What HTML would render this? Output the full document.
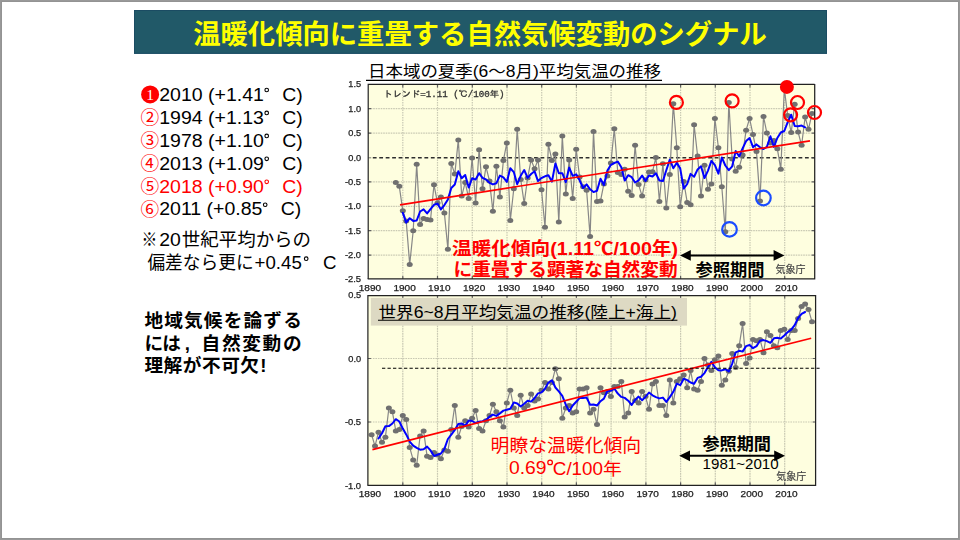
<!DOCTYPE html>
<html lang="ja"><head><meta charset="utf-8"><title>slide</title>
<style>
html,body{margin:0;padding:0;background:#fff}
body{width:960px;height:540px;overflow:hidden;font-family:"Liberation Sans",sans-serif}
svg{display:block;font-family:"Liberation Sans","Noto Sans CJK JP",sans-serif}
</style></head><body>
<svg width="960" height="540" viewBox="0 0 960 540">
<defs><filter id="soft" x="-2%" y="-5%" width="104%" height="110%"><feGaussianBlur stdDeviation="0.4"/></filter></defs>
<rect x="0" y="0" width="960" height="540" fill="#999"/>
<rect x="1" y="1" width="958" height="538" fill="#939393"/>
<rect x="2" y="2" width="956" height="536" fill="#fff"/>
<rect x="134" y="10" width="693" height="43.8" fill="#215968"/>
<rect x="134.5" y="10.5" width="692" height="42.8" fill="none" stroke="#1b4c63" stroke-width="1"/>
<text x="193.2" y="43.5" font-size="27.3" font-weight="bold" fill="#ffff00" textLength="573.6" lengthAdjust="spacingAndGlyphs">温暖化傾向に重畳する自然気候変動のシグナル</text>
<circle cx="150.1" cy="94.40" r="9.0" fill="#ff0000"/>
<text x="150.1" y="100.1" font-size="15.5" font-family="'Liberation Serif',serif" fill="#fff" text-anchor="middle">1</text>
<text x="159.2" y="100.70" font-size="18.67" fill="#000" textLength="104.7" lengthAdjust="spacingAndGlyphs">2010 (+1.41</text>
<circle cx="266.70" cy="90.00" r="1.8" fill="none" stroke="#000" stroke-width="1.1"/>
<text x="282.30" y="100.70" font-size="18.67" fill="#000" textLength="20.5" lengthAdjust="spacingAndGlyphs">C)</text>
<text x="149.95" y="124.0" font-size="18.67" fill="#ff0000" text-anchor="middle">②</text>
<text x="159.2" y="123.65" font-size="18.67" fill="#000" textLength="104.7" lengthAdjust="spacingAndGlyphs">1994 (+1.13</text>
<circle cx="266.70" cy="112.95" r="1.8" fill="none" stroke="#000" stroke-width="1.1"/>
<text x="282.30" y="123.65" font-size="18.67" fill="#000" textLength="20.5" lengthAdjust="spacingAndGlyphs">C)</text>
<text x="149.95" y="146.95" font-size="18.67" fill="#ff0000" text-anchor="middle">③</text>
<text x="159.2" y="146.60" font-size="18.67" fill="#000" textLength="104.7" lengthAdjust="spacingAndGlyphs">1978 (+1.10</text>
<circle cx="266.70" cy="135.90" r="1.8" fill="none" stroke="#000" stroke-width="1.1"/>
<text x="282.30" y="146.60" font-size="18.67" fill="#000" textLength="20.5" lengthAdjust="spacingAndGlyphs">C)</text>
<text x="149.95" y="169.9" font-size="18.67" fill="#ff0000" text-anchor="middle">④</text>
<text x="159.2" y="169.55" font-size="18.67" fill="#000" textLength="104.7" lengthAdjust="spacingAndGlyphs">2013 (+1.09</text>
<circle cx="266.70" cy="158.85" r="1.8" fill="none" stroke="#000" stroke-width="1.1"/>
<text x="282.30" y="169.55" font-size="18.67" fill="#000" textLength="20.5" lengthAdjust="spacingAndGlyphs">C)</text>
<text x="149.95" y="192.85" font-size="18.67" fill="#ff0000" text-anchor="middle">⑤</text>
<text x="159.2" y="192.50" font-size="18.67" fill="#ff0000" textLength="104.7" lengthAdjust="spacingAndGlyphs">2018 (+0.90</text>
<circle cx="266.70" cy="181.80" r="1.8" fill="none" stroke="#ff0000" stroke-width="1.1"/>
<text x="282.30" y="192.50" font-size="18.67" fill="#ff0000" textLength="20.5" lengthAdjust="spacingAndGlyphs">C)</text>
<text x="149.95" y="215.8" font-size="18.67" fill="#ff0000" text-anchor="middle">⑥</text>
<text x="159.2" y="215.45" font-size="18.67" fill="#000" textLength="32.55" lengthAdjust="spacingAndGlyphs">201</text>
<text x="190.25" y="215.45" font-size="18.67" fill="#000" textLength="72.15" lengthAdjust="spacingAndGlyphs">1 (+0.85</text>
<circle cx="265.20" cy="204.75" r="1.8" fill="none" stroke="#000" stroke-width="1.1"/>
<text x="280.80" y="215.45" font-size="18.67" fill="#000" textLength="20.5" lengthAdjust="spacingAndGlyphs">C)</text>
<text x="141.6" y="245.7" font-size="18.67" fill="#000" textLength="15.8" lengthAdjust="spacingAndGlyphs">※</text>
<text x="159.2" y="245.7" font-size="18.67" textLength="21.6" lengthAdjust="spacingAndGlyphs">20</text>
<text x="181.8" y="245.7" font-size="18.67" fill="#000" textLength="129.2" lengthAdjust="spacingAndGlyphs">世紀平均からの</text>
<text x="147.4" y="269.4" font-size="18.67" fill="#000" textLength="106.2" lengthAdjust="spacingAndGlyphs">偏差なら更に</text>
<text x="254.6" y="269.4" font-size="18.67">+0.45</text>
<circle cx="306.2" cy="258.7" r="1.8" fill="none" stroke="#000" stroke-width="1.1"/>
<text x="322.9" y="269.4" font-size="18.67">C</text>
<text x="144.4" y="327.2" font-size="18.67" font-weight="bold" fill="#000" textLength="157.4" lengthAdjust="spacing">地域気候を論ずる</text>
<text x="144.6" y="349.9" font-size="18.67" font-weight="bold" fill="#000" textLength="36.4" lengthAdjust="spacing">には</text>
<text x="184.7" y="349.9" font-size="18.67" font-weight="bold" fill="#000">,</text>
<text x="201.6" y="349.9" font-size="18.67" font-weight="bold" fill="#000" textLength="100" lengthAdjust="spacing">自然変動の</text>
<text x="144.4" y="371.5" font-size="18.67" font-weight="bold" fill="#000" textLength="114.6" lengthAdjust="spacing">理解が不可欠</text>
<text x="260.3" y="371.5" font-size="18.67" font-weight="bold" fill="#000">!</text>
<text x="368" y="77.4" font-size="15.6" fill="#000" textLength="293" lengthAdjust="spacingAndGlyphs">日本域の夏季(6～8月)平均気温の推移</text>
<path d="M366 80.4H662" stroke="#000" stroke-width="1.1"/>
<g filter="url(#soft)">
<rect x="368.2" y="84.4" width="446.5" height="194.5" fill="#fefedf"/>
<path d="M402.8 84.4V278.9M437.5 84.4V278.9M472.3 84.4V278.9M507.0 84.4V278.9M541.7 84.4V278.9M576.4 84.4V278.9M611.1 84.4V278.9M645.9 84.4V278.9M680.6 84.4V278.9M715.3 84.4V278.9M750.0 84.4V278.9M784.7 84.4V278.9M368.2 108.7H814.7M368.2 133.1H814.7M368.2 181.9H814.7M368.2 206.3H814.7M368.2 230.7H814.7M368.2 255.1H814.7" stroke="#c9c9b3" stroke-width="1.2" stroke-dasharray="1.6 0.9" fill="none"/>
<path d="M402.8 278.9v-3M402.8 84.4v3M437.5 278.9v-3M437.5 84.4v3M472.3 278.9v-3M472.3 84.4v3M507.0 278.9v-3M507.0 84.4v3M541.7 278.9v-3M541.7 84.4v3M576.4 278.9v-3M576.4 84.4v3M611.1 278.9v-3M611.1 84.4v3M645.9 278.9v-3M645.9 84.4v3M680.6 278.9v-3M680.6 84.4v3M715.3 278.9v-3M715.3 84.4v3M750.0 278.9v-3M750.0 84.4v3M784.7 278.9v-3M784.7 84.4v3M368.2 108.7h3M814.7 108.7h-3M368.2 133.1h3M814.7 133.1h-3M368.2 181.9h3M814.7 181.9h-3M368.2 206.3h3M814.7 206.3h-3M368.2 230.7h3M814.7 230.7h-3M368.2 255.1h3M814.7 255.1h-3" stroke="#606060" stroke-width="1.2" fill="none"/>
<path d="M372.8 157.8H814.7" stroke="#2f2f2f" stroke-width="1.6" stroke-dasharray="3.8 2.65" fill="none"/>
<path d="M368.2 157.8h3M814.7 157.8h-3" stroke="#555" stroke-width="0.8" fill="none"/>
<text x="361.1" y="87.4" font-size="8.6" fill="#1e1e1e" stroke="#1e1e1e" stroke-width="0.25" text-anchor="end" textLength="12.8" lengthAdjust="spacingAndGlyphs">1.5</text>
<text x="361.1" y="111.8" font-size="8.6" fill="#1e1e1e" stroke="#1e1e1e" stroke-width="0.25" text-anchor="end" textLength="12.8" lengthAdjust="spacingAndGlyphs">1.0</text>
<text x="361.1" y="136.2" font-size="8.6" fill="#1e1e1e" stroke="#1e1e1e" stroke-width="0.25" text-anchor="end" textLength="12.8" lengthAdjust="spacingAndGlyphs">0.5</text>
<text x="361.1" y="160.6" font-size="8.6" fill="#1e1e1e" stroke="#1e1e1e" stroke-width="0.25" text-anchor="end" textLength="12.8" lengthAdjust="spacingAndGlyphs">0.0</text>
<text x="361.1" y="185.0" font-size="8.6" fill="#1e1e1e" stroke="#1e1e1e" stroke-width="0.25" text-anchor="end" textLength="16.2" lengthAdjust="spacingAndGlyphs">-0.5</text>
<text x="361.1" y="209.4" font-size="8.6" fill="#1e1e1e" stroke="#1e1e1e" stroke-width="0.25" text-anchor="end" textLength="16.2" lengthAdjust="spacingAndGlyphs">-1.0</text>
<text x="361.1" y="233.8" font-size="8.6" fill="#1e1e1e" stroke="#1e1e1e" stroke-width="0.25" text-anchor="end" textLength="16.2" lengthAdjust="spacingAndGlyphs">-1.5</text>
<text x="361.1" y="258.2" font-size="8.6" fill="#1e1e1e" stroke="#1e1e1e" stroke-width="0.25" text-anchor="end" textLength="16.2" lengthAdjust="spacingAndGlyphs">-2.0</text>
<text x="361.1" y="281.7" font-size="8.6" fill="#1e1e1e" stroke="#1e1e1e" stroke-width="0.25" text-anchor="end" textLength="16.2" lengthAdjust="spacingAndGlyphs">-2.5</text>
<text x="369.9" y="290.7" font-size="8.6" fill="#1e1e1e" stroke="#1e1e1e" stroke-width="0.25" text-anchor="middle" textLength="22.4" lengthAdjust="spacingAndGlyphs">1890</text>
<text x="404.6" y="290.7" font-size="8.6" fill="#1e1e1e" stroke="#1e1e1e" stroke-width="0.25" text-anchor="middle" textLength="22.4" lengthAdjust="spacingAndGlyphs">1900</text>
<text x="439.3" y="290.7" font-size="8.6" fill="#1e1e1e" stroke="#1e1e1e" stroke-width="0.25" text-anchor="middle" textLength="22.4" lengthAdjust="spacingAndGlyphs">1910</text>
<text x="474.1" y="290.7" font-size="8.6" fill="#1e1e1e" stroke="#1e1e1e" stroke-width="0.25" text-anchor="middle" textLength="22.4" lengthAdjust="spacingAndGlyphs">1920</text>
<text x="508.8" y="290.7" font-size="8.6" fill="#1e1e1e" stroke="#1e1e1e" stroke-width="0.25" text-anchor="middle" textLength="22.4" lengthAdjust="spacingAndGlyphs">1930</text>
<text x="543.5" y="290.7" font-size="8.6" fill="#1e1e1e" stroke="#1e1e1e" stroke-width="0.25" text-anchor="middle" textLength="22.4" lengthAdjust="spacingAndGlyphs">1940</text>
<text x="578.2" y="290.7" font-size="8.6" fill="#1e1e1e" stroke="#1e1e1e" stroke-width="0.25" text-anchor="middle" textLength="22.4" lengthAdjust="spacingAndGlyphs">1950</text>
<text x="612.9" y="290.7" font-size="8.6" fill="#1e1e1e" stroke="#1e1e1e" stroke-width="0.25" text-anchor="middle" textLength="22.4" lengthAdjust="spacingAndGlyphs">1960</text>
<text x="647.7" y="290.7" font-size="8.6" fill="#1e1e1e" stroke="#1e1e1e" stroke-width="0.25" text-anchor="middle" textLength="22.4" lengthAdjust="spacingAndGlyphs">1970</text>
<text x="682.4" y="290.7" font-size="8.6" fill="#1e1e1e" stroke="#1e1e1e" stroke-width="0.25" text-anchor="middle" textLength="22.4" lengthAdjust="spacingAndGlyphs">1980</text>
<text x="717.1" y="290.7" font-size="8.6" fill="#1e1e1e" stroke="#1e1e1e" stroke-width="0.25" text-anchor="middle" textLength="22.4" lengthAdjust="spacingAndGlyphs">1990</text>
<text x="751.8" y="290.7" font-size="8.6" fill="#1e1e1e" stroke="#1e1e1e" stroke-width="0.25" text-anchor="middle" textLength="22.4" lengthAdjust="spacingAndGlyphs">2000</text>
<text x="786.5" y="290.7" font-size="8.6" fill="#1e1e1e" stroke="#1e1e1e" stroke-width="0.25" text-anchor="middle" textLength="22.4" lengthAdjust="spacingAndGlyphs">2010</text>
<text x="383.5" y="97.3" font-size="8.6" fill="#333" stroke="#333" stroke-width="0.3" font-family="'Liberation Mono','IPAGothic','Noto Sans CJK JP',monospace" textLength="121" lengthAdjust="spacingAndGlyphs">トレンド=1.11 (℃/100年)</text>
<polyline fill="none" stroke="#878787" stroke-width="1.2" stroke-linejoin="round" points="395.8,182.4 399.3,186.3 402.8,210.7 406.2,220.9 409.7,264.4 413.2,230.7 416.7,164.3 420.1,224.4 423.6,218.5 427.1,219.5 430.5,220.0 434.0,184.8 437.5,202.9 440.9,197.0 444.4,213.1 447.9,249.2 451.3,163.4 454.8,174.1 458.3,139.9 461.7,196.1 465.2,182.4 468.7,198.5 472.1,158.0 475.6,202.9 479.1,149.7 482.5,188.7 486.0,166.8 489.5,180.9 492.9,211.2 496.4,166.3 499.9,197.0 503.4,160.4 506.8,142.9 510.3,220.5 513.8,188.7 517.2,129.2 520.7,179.5 524.2,203.4 527.6,178.0 531.1,159.9 534.6,168.7 538.0,159.9 541.5,189.7 545.0,227.3 548.4,144.3 551.9,160.4 555.4,154.1 558.8,221.9 562.3,136.0 565.8,194.1 569.2,159.9 572.7,198.5 576.2,149.2 579.6,177.0 583.1,186.8 586.6,190.2 590.1,236.6 593.5,131.4 597.0,201.4 600.5,200.9 603.9,183.9 607.4,176.0 610.9,162.9 614.3,128.7 617.8,172.6 621.3,174.6 624.7,169.2 628.2,191.2 631.7,195.6 635.1,145.3 638.6,184.6 642.1,196.1 645.5,179.9 649.0,172.1 652.5,171.7 655.9,157.5 659.4,201.4 662.9,163.8 666.3,208.0 669.8,174.6 673.3,103.8 676.8,147.7 680.2,206.8 683.7,181.4 687.2,202.4 690.6,204.8 694.1,124.8 697.6,156.0 701.0,196.1 704.5,165.3 708.0,189.2 711.4,183.9 714.9,118.5 718.4,147.7 721.8,186.8 725.3,231.7 728.8,102.4 732.2,159.0 735.7,171.2 739.2,167.3 742.6,155.1 746.1,130.2 749.6,118.5 753.0,134.6 756.5,151.6 760.0,200.9 763.5,116.5 766.9,133.1 770.4,142.9 773.9,140.4 777.3,148.7 780.8,169.2 784.3,88.7 787.7,115.5 791.2,132.6 794.7,104.3 798.1,132.1 801.6,145.3 805.1,117.0 808.5,129.2 812.0,113.6"/>
<g fill="#6f6f6f"><ellipse cx="395.8" cy="182.4" rx="3.0" ry="2.5"/><ellipse cx="399.3" cy="186.3" rx="3.0" ry="2.5"/><ellipse cx="402.8" cy="210.7" rx="3.0" ry="2.5"/><ellipse cx="406.2" cy="220.9" rx="3.0" ry="2.5"/><ellipse cx="409.7" cy="264.4" rx="3.0" ry="2.5"/><ellipse cx="413.2" cy="230.7" rx="3.0" ry="2.5"/><ellipse cx="416.7" cy="164.3" rx="3.0" ry="2.5"/><ellipse cx="420.1" cy="224.4" rx="3.0" ry="2.5"/><ellipse cx="423.6" cy="218.5" rx="3.0" ry="2.5"/><ellipse cx="427.1" cy="219.5" rx="3.0" ry="2.5"/><ellipse cx="430.5" cy="220.0" rx="3.0" ry="2.5"/><ellipse cx="434.0" cy="184.8" rx="3.0" ry="2.5"/><ellipse cx="437.5" cy="202.9" rx="3.0" ry="2.5"/><ellipse cx="440.9" cy="197.0" rx="3.0" ry="2.5"/><ellipse cx="444.4" cy="213.1" rx="3.0" ry="2.5"/><ellipse cx="447.9" cy="249.2" rx="3.0" ry="2.5"/><ellipse cx="451.3" cy="163.4" rx="3.0" ry="2.5"/><ellipse cx="454.8" cy="174.1" rx="3.0" ry="2.5"/><ellipse cx="458.3" cy="139.9" rx="3.0" ry="2.5"/><ellipse cx="461.7" cy="196.1" rx="3.0" ry="2.5"/><ellipse cx="465.2" cy="182.4" rx="3.0" ry="2.5"/><ellipse cx="468.7" cy="198.5" rx="3.0" ry="2.5"/><ellipse cx="472.1" cy="158.0" rx="3.0" ry="2.5"/><ellipse cx="475.6" cy="202.9" rx="3.0" ry="2.5"/><ellipse cx="479.1" cy="149.7" rx="3.0" ry="2.5"/><ellipse cx="482.5" cy="188.7" rx="3.0" ry="2.5"/><ellipse cx="486.0" cy="166.8" rx="3.0" ry="2.5"/><ellipse cx="489.5" cy="180.9" rx="3.0" ry="2.5"/><ellipse cx="492.9" cy="211.2" rx="3.0" ry="2.5"/><ellipse cx="496.4" cy="166.3" rx="3.0" ry="2.5"/><ellipse cx="499.9" cy="197.0" rx="3.0" ry="2.5"/><ellipse cx="503.4" cy="160.4" rx="3.0" ry="2.5"/><ellipse cx="506.8" cy="142.9" rx="3.0" ry="2.5"/><ellipse cx="510.3" cy="220.5" rx="3.0" ry="2.5"/><ellipse cx="513.8" cy="188.7" rx="3.0" ry="2.5"/><ellipse cx="517.2" cy="129.2" rx="3.0" ry="2.5"/><ellipse cx="520.7" cy="179.5" rx="3.0" ry="2.5"/><ellipse cx="524.2" cy="203.4" rx="3.0" ry="2.5"/><ellipse cx="527.6" cy="178.0" rx="3.0" ry="2.5"/><ellipse cx="531.1" cy="159.9" rx="3.0" ry="2.5"/><ellipse cx="534.6" cy="168.7" rx="3.0" ry="2.5"/><ellipse cx="538.0" cy="159.9" rx="3.0" ry="2.5"/><ellipse cx="541.5" cy="189.7" rx="3.0" ry="2.5"/><ellipse cx="545.0" cy="227.3" rx="3.0" ry="2.5"/><ellipse cx="548.4" cy="144.3" rx="3.0" ry="2.5"/><ellipse cx="551.9" cy="160.4" rx="3.0" ry="2.5"/><ellipse cx="555.4" cy="154.1" rx="3.0" ry="2.5"/><ellipse cx="558.8" cy="221.9" rx="3.0" ry="2.5"/><ellipse cx="562.3" cy="136.0" rx="3.0" ry="2.5"/><ellipse cx="565.8" cy="194.1" rx="3.0" ry="2.5"/><ellipse cx="569.2" cy="159.9" rx="3.0" ry="2.5"/><ellipse cx="572.7" cy="198.5" rx="3.0" ry="2.5"/><ellipse cx="576.2" cy="149.2" rx="3.0" ry="2.5"/><ellipse cx="579.6" cy="177.0" rx="3.0" ry="2.5"/><ellipse cx="583.1" cy="186.8" rx="3.0" ry="2.5"/><ellipse cx="586.6" cy="190.2" rx="3.0" ry="2.5"/><ellipse cx="590.1" cy="236.6" rx="3.0" ry="2.5"/><ellipse cx="593.5" cy="131.4" rx="3.0" ry="2.5"/><ellipse cx="597.0" cy="201.4" rx="3.0" ry="2.5"/><ellipse cx="600.5" cy="200.9" rx="3.0" ry="2.5"/><ellipse cx="603.9" cy="183.9" rx="3.0" ry="2.5"/><ellipse cx="607.4" cy="176.0" rx="3.0" ry="2.5"/><ellipse cx="610.9" cy="162.9" rx="3.0" ry="2.5"/><ellipse cx="614.3" cy="128.7" rx="3.0" ry="2.5"/><ellipse cx="617.8" cy="172.6" rx="3.0" ry="2.5"/><ellipse cx="621.3" cy="174.6" rx="3.0" ry="2.5"/><ellipse cx="624.7" cy="169.2" rx="3.0" ry="2.5"/><ellipse cx="628.2" cy="191.2" rx="3.0" ry="2.5"/><ellipse cx="631.7" cy="195.6" rx="3.0" ry="2.5"/><ellipse cx="635.1" cy="145.3" rx="3.0" ry="2.5"/><ellipse cx="638.6" cy="184.6" rx="3.0" ry="2.5"/><ellipse cx="642.1" cy="196.1" rx="3.0" ry="2.5"/><ellipse cx="645.5" cy="179.9" rx="3.0" ry="2.5"/><ellipse cx="649.0" cy="172.1" rx="3.0" ry="2.5"/><ellipse cx="652.5" cy="171.7" rx="3.0" ry="2.5"/><ellipse cx="655.9" cy="157.5" rx="3.0" ry="2.5"/><ellipse cx="659.4" cy="201.4" rx="3.0" ry="2.5"/><ellipse cx="662.9" cy="163.8" rx="3.0" ry="2.5"/><ellipse cx="666.3" cy="208.0" rx="3.0" ry="2.5"/><ellipse cx="669.8" cy="174.6" rx="3.0" ry="2.5"/><ellipse cx="673.3" cy="103.8" rx="3.0" ry="2.5"/><ellipse cx="676.8" cy="147.7" rx="3.0" ry="2.5"/><ellipse cx="680.2" cy="206.8" rx="3.0" ry="2.5"/><ellipse cx="683.7" cy="181.4" rx="3.0" ry="2.5"/><ellipse cx="687.2" cy="202.4" rx="3.0" ry="2.5"/><ellipse cx="690.6" cy="204.8" rx="3.0" ry="2.5"/><ellipse cx="694.1" cy="124.8" rx="3.0" ry="2.5"/><ellipse cx="697.6" cy="156.0" rx="3.0" ry="2.5"/><ellipse cx="701.0" cy="196.1" rx="3.0" ry="2.5"/><ellipse cx="704.5" cy="165.3" rx="3.0" ry="2.5"/><ellipse cx="708.0" cy="189.2" rx="3.0" ry="2.5"/><ellipse cx="711.4" cy="183.9" rx="3.0" ry="2.5"/><ellipse cx="714.9" cy="118.5" rx="3.0" ry="2.5"/><ellipse cx="718.4" cy="147.7" rx="3.0" ry="2.5"/><ellipse cx="721.8" cy="186.8" rx="3.0" ry="2.5"/><ellipse cx="725.3" cy="231.7" rx="3.0" ry="2.5"/><ellipse cx="728.8" cy="102.4" rx="3.0" ry="2.5"/><ellipse cx="732.2" cy="159.0" rx="3.0" ry="2.5"/><ellipse cx="735.7" cy="171.2" rx="3.0" ry="2.5"/><ellipse cx="739.2" cy="167.3" rx="3.0" ry="2.5"/><ellipse cx="742.6" cy="155.1" rx="3.0" ry="2.5"/><ellipse cx="746.1" cy="130.2" rx="3.0" ry="2.5"/><ellipse cx="749.6" cy="118.5" rx="3.0" ry="2.5"/><ellipse cx="753.0" cy="134.6" rx="3.0" ry="2.5"/><ellipse cx="756.5" cy="151.6" rx="3.0" ry="2.5"/><ellipse cx="760.0" cy="200.9" rx="3.0" ry="2.5"/><ellipse cx="763.5" cy="116.5" rx="3.0" ry="2.5"/><ellipse cx="766.9" cy="133.1" rx="3.0" ry="2.5"/><ellipse cx="770.4" cy="142.9" rx="3.0" ry="2.5"/><ellipse cx="773.9" cy="140.4" rx="3.0" ry="2.5"/><ellipse cx="777.3" cy="148.7" rx="3.0" ry="2.5"/><ellipse cx="780.8" cy="169.2" rx="3.0" ry="2.5"/><ellipse cx="784.3" cy="88.7" rx="3.0" ry="2.5"/><ellipse cx="787.7" cy="115.5" rx="3.0" ry="2.5"/><ellipse cx="791.2" cy="132.6" rx="3.0" ry="2.5"/><ellipse cx="794.7" cy="104.3" rx="3.0" ry="2.5"/><ellipse cx="798.1" cy="132.1" rx="3.0" ry="2.5"/><ellipse cx="801.6" cy="145.3" rx="3.0" ry="2.5"/><ellipse cx="805.1" cy="117.0" rx="3.0" ry="2.5"/><ellipse cx="808.5" cy="129.2" rx="3.0" ry="2.5"/><ellipse cx="812.0" cy="113.6" rx="3.0" ry="2.5"/></g>
<polyline fill="none" stroke="#0000ff" stroke-width="2" stroke-linejoin="round" stroke-linecap="round" points="402.8,212.9 406.2,222.6 409.7,218.2 413.2,220.9 416.7,220.5 420.1,211.5 423.6,209.3 427.1,213.4 430.5,209.1 434.0,204.8 437.5,203.6 440.9,209.4 444.4,205.1 447.9,199.4 451.3,188.0 454.8,184.5 458.3,171.2 461.7,178.2 465.2,175.0 468.7,187.6 472.1,178.3 475.6,179.6 479.1,173.2 482.5,177.8 486.0,179.5 489.5,182.8 492.9,184.4 496.4,183.2 499.9,175.6 503.4,177.4 506.8,181.9 510.3,168.3 513.8,172.1 517.2,184.2 520.7,175.8 524.2,170.0 527.6,177.9 531.1,174.0 534.6,171.3 538.0,181.1 541.5,178.0 545.0,176.3 548.4,175.2 551.9,181.6 555.4,163.4 558.8,173.3 562.3,173.2 565.8,182.1 569.2,167.6 572.7,175.8 576.2,174.3 579.6,180.3 583.1,188.0 586.6,184.4 590.1,189.3 593.5,192.1 597.0,190.8 600.5,178.7 603.9,185.0 607.4,170.5 610.9,164.8 614.3,163.0 617.8,161.6 621.3,167.3 624.7,180.6 628.2,175.2 631.7,177.2 635.1,182.5 638.6,180.3 642.1,175.6 645.5,180.9 649.0,175.5 652.5,176.5 655.9,173.3 659.4,180.5 662.9,181.1 666.3,170.3 669.8,159.6 673.3,168.2 676.8,162.9 680.2,168.4 683.7,188.6 687.2,184.0 690.6,173.9 694.1,176.8 697.6,169.4 701.0,166.3 704.5,178.1 708.0,170.6 711.4,160.9 714.9,165.2 718.4,173.7 721.8,157.4 725.3,165.5 728.8,170.2 732.2,166.3 735.7,151.0 739.2,156.5 742.6,148.4 746.1,141.1 749.6,138.0 753.0,147.2 756.5,144.4 760.0,147.3 763.5,149.0 766.9,146.8 770.4,136.3 773.9,146.9 777.3,138.0 780.8,132.5 784.3,131.0 787.7,122.1 791.2,114.7 794.7,126.0 798.1,126.3 801.6,125.6 805.1,127.4"/>
<path d="M400 204.8L810 140.8" stroke="#ff0000" stroke-width="1.7"/>
<path d="M814.7 83.9V278.9H367.7" stroke="#222" stroke-width="1.25" fill="none"/>
<path d="M368.2 278.9V84.4H814.7" stroke="#222" stroke-width="1.2" fill="none"/>
<text x="775.6" y="273.1" font-size="9.8" fill="#444" stroke="#444" stroke-width="0.2" textLength="30" lengthAdjust="spacingAndGlyphs">気象庁</text>
</g>
<circle cx="676.4" cy="102.4" r="6.5" fill="none" stroke="#ff0000" stroke-width="2.2"/>
<circle cx="732.1" cy="100.9" r="6.5" fill="none" stroke="#ff0000" stroke-width="2.2"/>
<circle cx="797.5" cy="102.5" r="6.5" fill="none" stroke="#ff0000" stroke-width="2.2"/>
<circle cx="790.6" cy="114.8" r="6.5" fill="none" stroke="#ff0000" stroke-width="2.2"/>
<circle cx="814.5" cy="112.5" r="6.5" fill="none" stroke="#ff0000" stroke-width="2.2"/>
<circle cx="786.9" cy="86.9" r="7" fill="#ff0000"/>
<circle cx="729.5" cy="229.4" r="7.3" fill="none" stroke="#1a4cff" stroke-width="2.2"/>
<circle cx="763.4" cy="198.0" r="7.3" fill="none" stroke="#1a4cff" stroke-width="2.2"/>
<text x="452" y="254.6" font-size="17.8" font-weight="bold" fill="#ff0000" textLength="226" lengthAdjust="spacingAndGlyphs">温暖化傾向(1.11℃/100年)</text>
<text x="453.6" y="276" font-size="18.67" font-weight="bold" fill="#ff0000" textLength="224" lengthAdjust="spacingAndGlyphs">に重畳する顕著な自然変動</text>
<path d="M689.8 255.4H774.6" stroke="#000" stroke-width="2.0"/>
<path d="M680.0 255.4l10.8 -5.4v10.8zM784.4 255.4l-10.8 -5.4v10.8z" fill="#000"/>
<text x="695.6" y="275.6" font-size="17" font-weight="bold" fill="#000" textLength="69" lengthAdjust="spacingAndGlyphs">参照期間</text>
<g filter="url(#soft)">
<rect x="367.9" y="295.6" width="447.7" height="189.7" fill="#fefedf"/>
<path d="M402.8 295.6V485.3M437.5 295.6V485.3M472.3 295.6V485.3M507.0 295.6V485.3M541.7 295.6V485.3M576.4 295.6V485.3M611.1 295.6V485.3M645.9 295.6V485.3M680.6 295.6V485.3M715.3 295.6V485.3M750.0 295.6V485.3M784.7 295.6V485.3M367.9 358.5H815.6M367.9 422.0H815.6" stroke="#c9c9b3" stroke-width="1.2" stroke-dasharray="1.6 0.9" fill="none"/>
<path d="M402.8 485.3v-3M402.8 295.6v3M437.5 485.3v-3M437.5 295.6v3M472.3 485.3v-3M472.3 295.6v3M507.0 485.3v-3M507.0 295.6v3M541.7 485.3v-3M541.7 295.6v3M576.4 485.3v-3M576.4 295.6v3M611.1 485.3v-3M611.1 295.6v3M645.9 485.3v-3M645.9 295.6v3M680.6 485.3v-3M680.6 295.6v3M715.3 485.3v-3M715.3 295.6v3M750.0 485.3v-3M750.0 295.6v3M784.7 485.3v-3M784.7 295.6v3M367.9 358.5h3M815.6 358.5h-3M367.9 422.0h3M815.6 422.0h-3" stroke="#606060" stroke-width="1.2" fill="none"/>
<text x="361.1" y="298.1" font-size="8.6" fill="#1e1e1e" stroke="#1e1e1e" stroke-width="0.25" text-anchor="end" textLength="12.8" lengthAdjust="spacingAndGlyphs">0.5</text>
<text x="361.1" y="361.6" font-size="8.6" fill="#1e1e1e" stroke="#1e1e1e" stroke-width="0.25" text-anchor="end" textLength="12.8" lengthAdjust="spacingAndGlyphs">0.0</text>
<text x="361.1" y="425.1" font-size="8.6" fill="#1e1e1e" stroke="#1e1e1e" stroke-width="0.25" text-anchor="end" textLength="16.2" lengthAdjust="spacingAndGlyphs">-0.5</text>
<text x="361.1" y="488.6" font-size="8.6" fill="#1e1e1e" stroke="#1e1e1e" stroke-width="0.25" text-anchor="end" textLength="16.2" lengthAdjust="spacingAndGlyphs">-1.0</text>
<text x="369.9" y="496.6" font-size="8.6" fill="#1e1e1e" stroke="#1e1e1e" stroke-width="0.25" text-anchor="middle" textLength="22.4" lengthAdjust="spacingAndGlyphs">1890</text>
<text x="404.6" y="496.6" font-size="8.6" fill="#1e1e1e" stroke="#1e1e1e" stroke-width="0.25" text-anchor="middle" textLength="22.4" lengthAdjust="spacingAndGlyphs">1900</text>
<text x="439.3" y="496.6" font-size="8.6" fill="#1e1e1e" stroke="#1e1e1e" stroke-width="0.25" text-anchor="middle" textLength="22.4" lengthAdjust="spacingAndGlyphs">1910</text>
<text x="474.1" y="496.6" font-size="8.6" fill="#1e1e1e" stroke="#1e1e1e" stroke-width="0.25" text-anchor="middle" textLength="22.4" lengthAdjust="spacingAndGlyphs">1920</text>
<text x="508.8" y="496.6" font-size="8.6" fill="#1e1e1e" stroke="#1e1e1e" stroke-width="0.25" text-anchor="middle" textLength="22.4" lengthAdjust="spacingAndGlyphs">1930</text>
<text x="543.5" y="496.6" font-size="8.6" fill="#1e1e1e" stroke="#1e1e1e" stroke-width="0.25" text-anchor="middle" textLength="22.4" lengthAdjust="spacingAndGlyphs">1940</text>
<text x="578.2" y="496.6" font-size="8.6" fill="#1e1e1e" stroke="#1e1e1e" stroke-width="0.25" text-anchor="middle" textLength="22.4" lengthAdjust="spacingAndGlyphs">1950</text>
<text x="612.9" y="496.6" font-size="8.6" fill="#1e1e1e" stroke="#1e1e1e" stroke-width="0.25" text-anchor="middle" textLength="22.4" lengthAdjust="spacingAndGlyphs">1960</text>
<text x="647.7" y="496.6" font-size="8.6" fill="#1e1e1e" stroke="#1e1e1e" stroke-width="0.25" text-anchor="middle" textLength="22.4" lengthAdjust="spacingAndGlyphs">1970</text>
<text x="682.4" y="496.6" font-size="8.6" fill="#1e1e1e" stroke="#1e1e1e" stroke-width="0.25" text-anchor="middle" textLength="22.4" lengthAdjust="spacingAndGlyphs">1980</text>
<text x="717.1" y="496.6" font-size="8.6" fill="#1e1e1e" stroke="#1e1e1e" stroke-width="0.25" text-anchor="middle" textLength="22.4" lengthAdjust="spacingAndGlyphs">1990</text>
<text x="751.8" y="496.6" font-size="8.6" fill="#1e1e1e" stroke="#1e1e1e" stroke-width="0.25" text-anchor="middle" textLength="22.4" lengthAdjust="spacingAndGlyphs">2000</text>
<text x="786.5" y="496.6" font-size="8.6" fill="#1e1e1e" stroke="#1e1e1e" stroke-width="0.25" text-anchor="middle" textLength="22.4" lengthAdjust="spacingAndGlyphs">2010</text>
<polyline fill="none" stroke="#878787" stroke-width="1.2" stroke-linejoin="round" points="371.6,434.7 375.0,446.1 378.5,432.2 382.0,442.3 385.4,437.2 388.9,408.0 392.4,411.8 395.8,430.9 399.3,429.6 402.8,415.6 406.2,419.5 409.7,447.4 413.2,460.1 416.7,465.2 420.1,436.0 423.6,430.9 427.1,456.3 430.5,457.6 434.0,452.5 437.5,455.0 440.9,458.8 444.4,449.9 447.9,451.2 451.3,429.6 454.8,405.5 458.3,437.2 461.7,426.4 465.2,420.7 468.7,427.1 472.1,418.2 475.6,410.6 479.1,428.4 482.5,430.9 486.0,420.7 489.5,415.6 492.9,404.2 496.4,411.8 499.9,420.7 503.4,427.1 506.8,402.9 510.3,390.2 513.8,408.0 517.2,415.6 520.7,395.3 524.2,408.0 527.6,405.5 531.1,394.1 534.6,401.0 538.0,399.1 541.5,390.2 545.0,382.6 548.4,389.0 551.9,382.6 555.4,368.7 558.8,378.8 562.3,418.2 565.8,408.0 569.2,405.5 572.7,413.1 576.2,411.8 579.6,389.0 583.1,389.0 586.6,387.7 590.1,413.1 593.5,409.3 597.0,424.5 600.5,387.7 603.9,392.8 607.4,391.5 610.9,396.6 614.3,386.4 617.8,386.4 621.3,381.4 624.7,416.9 628.2,413.1 631.7,391.5 635.1,400.4 638.6,402.9 642.1,391.5 645.5,396.6 649.0,409.3 652.5,383.9 655.9,381.4 659.4,405.5 662.9,405.5 666.3,415.6 669.8,380.1 673.3,402.9 676.8,381.4 680.2,378.8 683.7,375.0 687.2,387.7 690.6,370.6 694.1,389.0 697.6,390.2 701.0,381.4 704.5,358.5 708.0,364.9 711.4,370.6 714.9,359.8 718.4,356.0 721.8,385.2 725.3,380.1 728.8,371.2 732.2,353.4 735.7,367.4 739.2,345.8 742.6,323.6 746.1,363.6 749.6,357.9 753.0,339.4 756.5,340.7 760.0,339.4 763.5,352.8 766.9,331.8 770.4,335.6 773.9,345.8 777.3,347.7 780.8,330.6 784.3,329.3 787.7,339.4 791.2,330.6 794.7,330.6 798.1,318.5 801.6,306.4 805.1,303.9 808.5,309.6 812.0,321.7"/>
<g fill="#6f6f6f"><ellipse cx="371.6" cy="434.7" rx="3.0" ry="2.5"/><ellipse cx="375.0" cy="446.1" rx="3.0" ry="2.5"/><ellipse cx="378.5" cy="432.2" rx="3.0" ry="2.5"/><ellipse cx="382.0" cy="442.3" rx="3.0" ry="2.5"/><ellipse cx="385.4" cy="437.2" rx="3.0" ry="2.5"/><ellipse cx="388.9" cy="408.0" rx="3.0" ry="2.5"/><ellipse cx="392.4" cy="411.8" rx="3.0" ry="2.5"/><ellipse cx="395.8" cy="430.9" rx="3.0" ry="2.5"/><ellipse cx="399.3" cy="429.6" rx="3.0" ry="2.5"/><ellipse cx="402.8" cy="415.6" rx="3.0" ry="2.5"/><ellipse cx="406.2" cy="419.5" rx="3.0" ry="2.5"/><ellipse cx="409.7" cy="447.4" rx="3.0" ry="2.5"/><ellipse cx="413.2" cy="460.1" rx="3.0" ry="2.5"/><ellipse cx="416.7" cy="465.2" rx="3.0" ry="2.5"/><ellipse cx="420.1" cy="436.0" rx="3.0" ry="2.5"/><ellipse cx="423.6" cy="430.9" rx="3.0" ry="2.5"/><ellipse cx="427.1" cy="456.3" rx="3.0" ry="2.5"/><ellipse cx="430.5" cy="457.6" rx="3.0" ry="2.5"/><ellipse cx="434.0" cy="452.5" rx="3.0" ry="2.5"/><ellipse cx="437.5" cy="455.0" rx="3.0" ry="2.5"/><ellipse cx="440.9" cy="458.8" rx="3.0" ry="2.5"/><ellipse cx="444.4" cy="449.9" rx="3.0" ry="2.5"/><ellipse cx="447.9" cy="451.2" rx="3.0" ry="2.5"/><ellipse cx="451.3" cy="429.6" rx="3.0" ry="2.5"/><ellipse cx="454.8" cy="405.5" rx="3.0" ry="2.5"/><ellipse cx="458.3" cy="437.2" rx="3.0" ry="2.5"/><ellipse cx="461.7" cy="426.4" rx="3.0" ry="2.5"/><ellipse cx="465.2" cy="420.7" rx="3.0" ry="2.5"/><ellipse cx="468.7" cy="427.1" rx="3.0" ry="2.5"/><ellipse cx="472.1" cy="418.2" rx="3.0" ry="2.5"/><ellipse cx="475.6" cy="410.6" rx="3.0" ry="2.5"/><ellipse cx="479.1" cy="428.4" rx="3.0" ry="2.5"/><ellipse cx="482.5" cy="430.9" rx="3.0" ry="2.5"/><ellipse cx="486.0" cy="420.7" rx="3.0" ry="2.5"/><ellipse cx="489.5" cy="415.6" rx="3.0" ry="2.5"/><ellipse cx="492.9" cy="404.2" rx="3.0" ry="2.5"/><ellipse cx="496.4" cy="411.8" rx="3.0" ry="2.5"/><ellipse cx="499.9" cy="420.7" rx="3.0" ry="2.5"/><ellipse cx="503.4" cy="427.1" rx="3.0" ry="2.5"/><ellipse cx="506.8" cy="402.9" rx="3.0" ry="2.5"/><ellipse cx="510.3" cy="390.2" rx="3.0" ry="2.5"/><ellipse cx="513.8" cy="408.0" rx="3.0" ry="2.5"/><ellipse cx="517.2" cy="415.6" rx="3.0" ry="2.5"/><ellipse cx="520.7" cy="395.3" rx="3.0" ry="2.5"/><ellipse cx="524.2" cy="408.0" rx="3.0" ry="2.5"/><ellipse cx="527.6" cy="405.5" rx="3.0" ry="2.5"/><ellipse cx="531.1" cy="394.1" rx="3.0" ry="2.5"/><ellipse cx="534.6" cy="401.0" rx="3.0" ry="2.5"/><ellipse cx="538.0" cy="399.1" rx="3.0" ry="2.5"/><ellipse cx="541.5" cy="390.2" rx="3.0" ry="2.5"/><ellipse cx="545.0" cy="382.6" rx="3.0" ry="2.5"/><ellipse cx="548.4" cy="389.0" rx="3.0" ry="2.5"/><ellipse cx="551.9" cy="382.6" rx="3.0" ry="2.5"/><ellipse cx="555.4" cy="368.7" rx="3.0" ry="2.5"/><ellipse cx="558.8" cy="378.8" rx="3.0" ry="2.5"/><ellipse cx="562.3" cy="418.2" rx="3.0" ry="2.5"/><ellipse cx="565.8" cy="408.0" rx="3.0" ry="2.5"/><ellipse cx="569.2" cy="405.5" rx="3.0" ry="2.5"/><ellipse cx="572.7" cy="413.1" rx="3.0" ry="2.5"/><ellipse cx="576.2" cy="411.8" rx="3.0" ry="2.5"/><ellipse cx="579.6" cy="389.0" rx="3.0" ry="2.5"/><ellipse cx="583.1" cy="389.0" rx="3.0" ry="2.5"/><ellipse cx="586.6" cy="387.7" rx="3.0" ry="2.5"/><ellipse cx="590.1" cy="413.1" rx="3.0" ry="2.5"/><ellipse cx="593.5" cy="409.3" rx="3.0" ry="2.5"/><ellipse cx="597.0" cy="424.5" rx="3.0" ry="2.5"/><ellipse cx="600.5" cy="387.7" rx="3.0" ry="2.5"/><ellipse cx="603.9" cy="392.8" rx="3.0" ry="2.5"/><ellipse cx="607.4" cy="391.5" rx="3.0" ry="2.5"/><ellipse cx="610.9" cy="396.6" rx="3.0" ry="2.5"/><ellipse cx="614.3" cy="386.4" rx="3.0" ry="2.5"/><ellipse cx="617.8" cy="386.4" rx="3.0" ry="2.5"/><ellipse cx="621.3" cy="381.4" rx="3.0" ry="2.5"/><ellipse cx="624.7" cy="416.9" rx="3.0" ry="2.5"/><ellipse cx="628.2" cy="413.1" rx="3.0" ry="2.5"/><ellipse cx="631.7" cy="391.5" rx="3.0" ry="2.5"/><ellipse cx="635.1" cy="400.4" rx="3.0" ry="2.5"/><ellipse cx="638.6" cy="402.9" rx="3.0" ry="2.5"/><ellipse cx="642.1" cy="391.5" rx="3.0" ry="2.5"/><ellipse cx="645.5" cy="396.6" rx="3.0" ry="2.5"/><ellipse cx="649.0" cy="409.3" rx="3.0" ry="2.5"/><ellipse cx="652.5" cy="383.9" rx="3.0" ry="2.5"/><ellipse cx="655.9" cy="381.4" rx="3.0" ry="2.5"/><ellipse cx="659.4" cy="405.5" rx="3.0" ry="2.5"/><ellipse cx="662.9" cy="405.5" rx="3.0" ry="2.5"/><ellipse cx="666.3" cy="415.6" rx="3.0" ry="2.5"/><ellipse cx="669.8" cy="380.1" rx="3.0" ry="2.5"/><ellipse cx="673.3" cy="402.9" rx="3.0" ry="2.5"/><ellipse cx="676.8" cy="381.4" rx="3.0" ry="2.5"/><ellipse cx="680.2" cy="378.8" rx="3.0" ry="2.5"/><ellipse cx="683.7" cy="375.0" rx="3.0" ry="2.5"/><ellipse cx="687.2" cy="387.7" rx="3.0" ry="2.5"/><ellipse cx="690.6" cy="370.6" rx="3.0" ry="2.5"/><ellipse cx="694.1" cy="389.0" rx="3.0" ry="2.5"/><ellipse cx="697.6" cy="390.2" rx="3.0" ry="2.5"/><ellipse cx="701.0" cy="381.4" rx="3.0" ry="2.5"/><ellipse cx="704.5" cy="358.5" rx="3.0" ry="2.5"/><ellipse cx="708.0" cy="364.9" rx="3.0" ry="2.5"/><ellipse cx="711.4" cy="370.6" rx="3.0" ry="2.5"/><ellipse cx="714.9" cy="359.8" rx="3.0" ry="2.5"/><ellipse cx="718.4" cy="356.0" rx="3.0" ry="2.5"/><ellipse cx="721.8" cy="385.2" rx="3.0" ry="2.5"/><ellipse cx="725.3" cy="380.1" rx="3.0" ry="2.5"/><ellipse cx="728.8" cy="371.2" rx="3.0" ry="2.5"/><ellipse cx="732.2" cy="353.4" rx="3.0" ry="2.5"/><ellipse cx="735.7" cy="367.4" rx="3.0" ry="2.5"/><ellipse cx="739.2" cy="345.8" rx="3.0" ry="2.5"/><ellipse cx="742.6" cy="323.6" rx="3.0" ry="2.5"/><ellipse cx="746.1" cy="363.6" rx="3.0" ry="2.5"/><ellipse cx="749.6" cy="357.9" rx="3.0" ry="2.5"/><ellipse cx="753.0" cy="339.4" rx="3.0" ry="2.5"/><ellipse cx="756.5" cy="340.7" rx="3.0" ry="2.5"/><ellipse cx="760.0" cy="339.4" rx="3.0" ry="2.5"/><ellipse cx="763.5" cy="352.8" rx="3.0" ry="2.5"/><ellipse cx="766.9" cy="331.8" rx="3.0" ry="2.5"/><ellipse cx="770.4" cy="335.6" rx="3.0" ry="2.5"/><ellipse cx="773.9" cy="345.8" rx="3.0" ry="2.5"/><ellipse cx="777.3" cy="347.7" rx="3.0" ry="2.5"/><ellipse cx="780.8" cy="330.6" rx="3.0" ry="2.5"/><ellipse cx="784.3" cy="329.3" rx="3.0" ry="2.5"/><ellipse cx="787.7" cy="339.4" rx="3.0" ry="2.5"/><ellipse cx="791.2" cy="330.6" rx="3.0" ry="2.5"/><ellipse cx="794.7" cy="330.6" rx="3.0" ry="2.5"/><ellipse cx="798.1" cy="318.5" rx="3.0" ry="2.5"/><ellipse cx="801.6" cy="306.4" rx="3.0" ry="2.5"/><ellipse cx="805.1" cy="303.9" rx="3.0" ry="2.5"/><ellipse cx="808.5" cy="309.6" rx="3.0" ry="2.5"/><ellipse cx="812.0" cy="321.7" rx="3.0" ry="2.5"/></g>
<polyline fill="none" stroke="#0000ff" stroke-width="2" stroke-linejoin="round" stroke-linecap="round" points="378.5,438.5 382.0,433.2 385.4,426.3 388.9,426.1 392.4,423.5 395.8,419.2 399.3,421.5 402.8,428.6 406.2,434.4 409.7,441.6 413.2,445.6 416.7,447.9 420.1,449.7 423.6,449.2 427.1,446.6 430.5,450.4 434.0,456.0 437.5,454.8 440.9,453.5 444.4,448.9 447.9,439.0 451.3,434.7 454.8,430.0 458.3,423.9 461.7,423.4 465.2,425.9 468.7,420.6 472.1,421.0 475.6,423.0 479.1,421.7 482.5,421.2 486.0,420.0 489.5,416.7 492.9,414.6 496.4,415.9 499.9,413.4 503.4,410.6 506.8,409.8 510.3,408.8 513.8,402.4 517.2,403.5 520.7,406.5 524.2,403.7 527.6,400.8 531.1,401.6 534.6,398.0 538.0,393.4 541.5,392.4 545.0,388.7 548.4,382.6 551.9,380.3 555.4,387.5 558.8,391.3 562.3,395.8 565.8,404.7 569.2,411.3 572.7,405.5 576.2,401.7 579.6,398.1 583.1,398.1 586.6,397.6 590.1,404.7 593.5,404.5 597.0,405.5 600.5,401.2 603.9,398.6 607.4,391.0 610.9,390.8 614.3,388.5 617.8,393.6 621.3,396.9 624.7,397.9 628.2,400.7 631.7,405.0 635.1,399.9 638.6,396.6 642.1,400.2 645.5,396.9 649.0,392.5 652.5,395.3 655.9,397.1 659.4,398.4 662.9,397.6 666.3,401.9 669.8,397.1 673.3,391.8 676.8,383.6 680.2,385.2 683.7,378.7 687.2,380.2 690.6,382.5 694.1,383.8 697.6,377.9 701.0,376.8 704.5,373.1 708.0,367.0 711.4,361.9 714.9,367.3 718.4,370.3 721.8,370.4 725.3,369.2 728.8,371.5 732.2,363.6 735.7,352.3 739.2,350.8 742.6,351.6 746.1,346.1 749.6,345.0 753.0,348.2 756.5,346.1 760.0,340.8 763.5,340.1 766.9,341.1 770.4,342.8 773.9,338.3 777.3,337.8 780.8,338.6 784.3,335.5 787.7,332.1 791.2,329.7 794.7,325.1 798.1,318.0 801.6,313.8 805.1,312.0"/>
<path d="M372.4 449.6L811.2 338.2" stroke="#ff0000" stroke-width="1.7"/>
<path d="M815.6 295.1V485.3H367.4" stroke="#222" stroke-width="1.25" fill="none"/>
<path d="M367.9 485.3V295.6H815.6" stroke="#222" stroke-width="1.2" fill="none"/>
<text x="776.2" y="479.9" font-size="9.8" fill="#444" stroke="#444" stroke-width="0.2" textLength="30" lengthAdjust="spacingAndGlyphs">気象庁</text>
</g>
<rect x="370.8" y="297.9" width="316.2" height="27.7" fill="#ddd9c3"/>
<text x="378.4" y="317.8" font-size="16" fill="#000" textLength="298.6" lengthAdjust="spacingAndGlyphs">世界6~8月平均気温の推移(陸上+海上)</text>
<path d="M378 320.2H677.4" stroke="#000" stroke-width="1.1"/>
<path d="M382 368.3H819.6" stroke="#000" stroke-width="1.1" stroke-dasharray="3.3 2.2" fill="none"/>
<text x="490.6" y="452" font-size="18.67" fill="#ff0000" textLength="150.6" lengthAdjust="spacingAndGlyphs">明瞭な温暖化傾向</text>
<text x="509" y="473.8" font-size="17.6" fill="#ff0000" textLength="37.6" lengthAdjust="spacingAndGlyphs">0.69</text>
<circle cx="550.1" cy="462.4" r="2.3" fill="none" stroke="#ff0000" stroke-width="1.3"/>
<text x="552.8" y="474.8" font-size="17.6" fill="#ff0000" textLength="69" lengthAdjust="spacingAndGlyphs">C/100年</text>
<text x="702.4" y="450.2" font-size="17" font-weight="bold" fill="#000" textLength="68.6" lengthAdjust="spacingAndGlyphs">参照期間</text>
<path d="M689.0 455.8H775.2" stroke="#000" stroke-width="2.0"/>
<path d="M679.2 455.8l10.8 -5.4v10.8zM785.0 455.8l-10.8 -5.4v10.8z" fill="#000"/>
<text x="702.6" y="469.2" font-size="15" textLength="76" lengthAdjust="spacingAndGlyphs">1981~2010</text>
</svg>
</body></html>
